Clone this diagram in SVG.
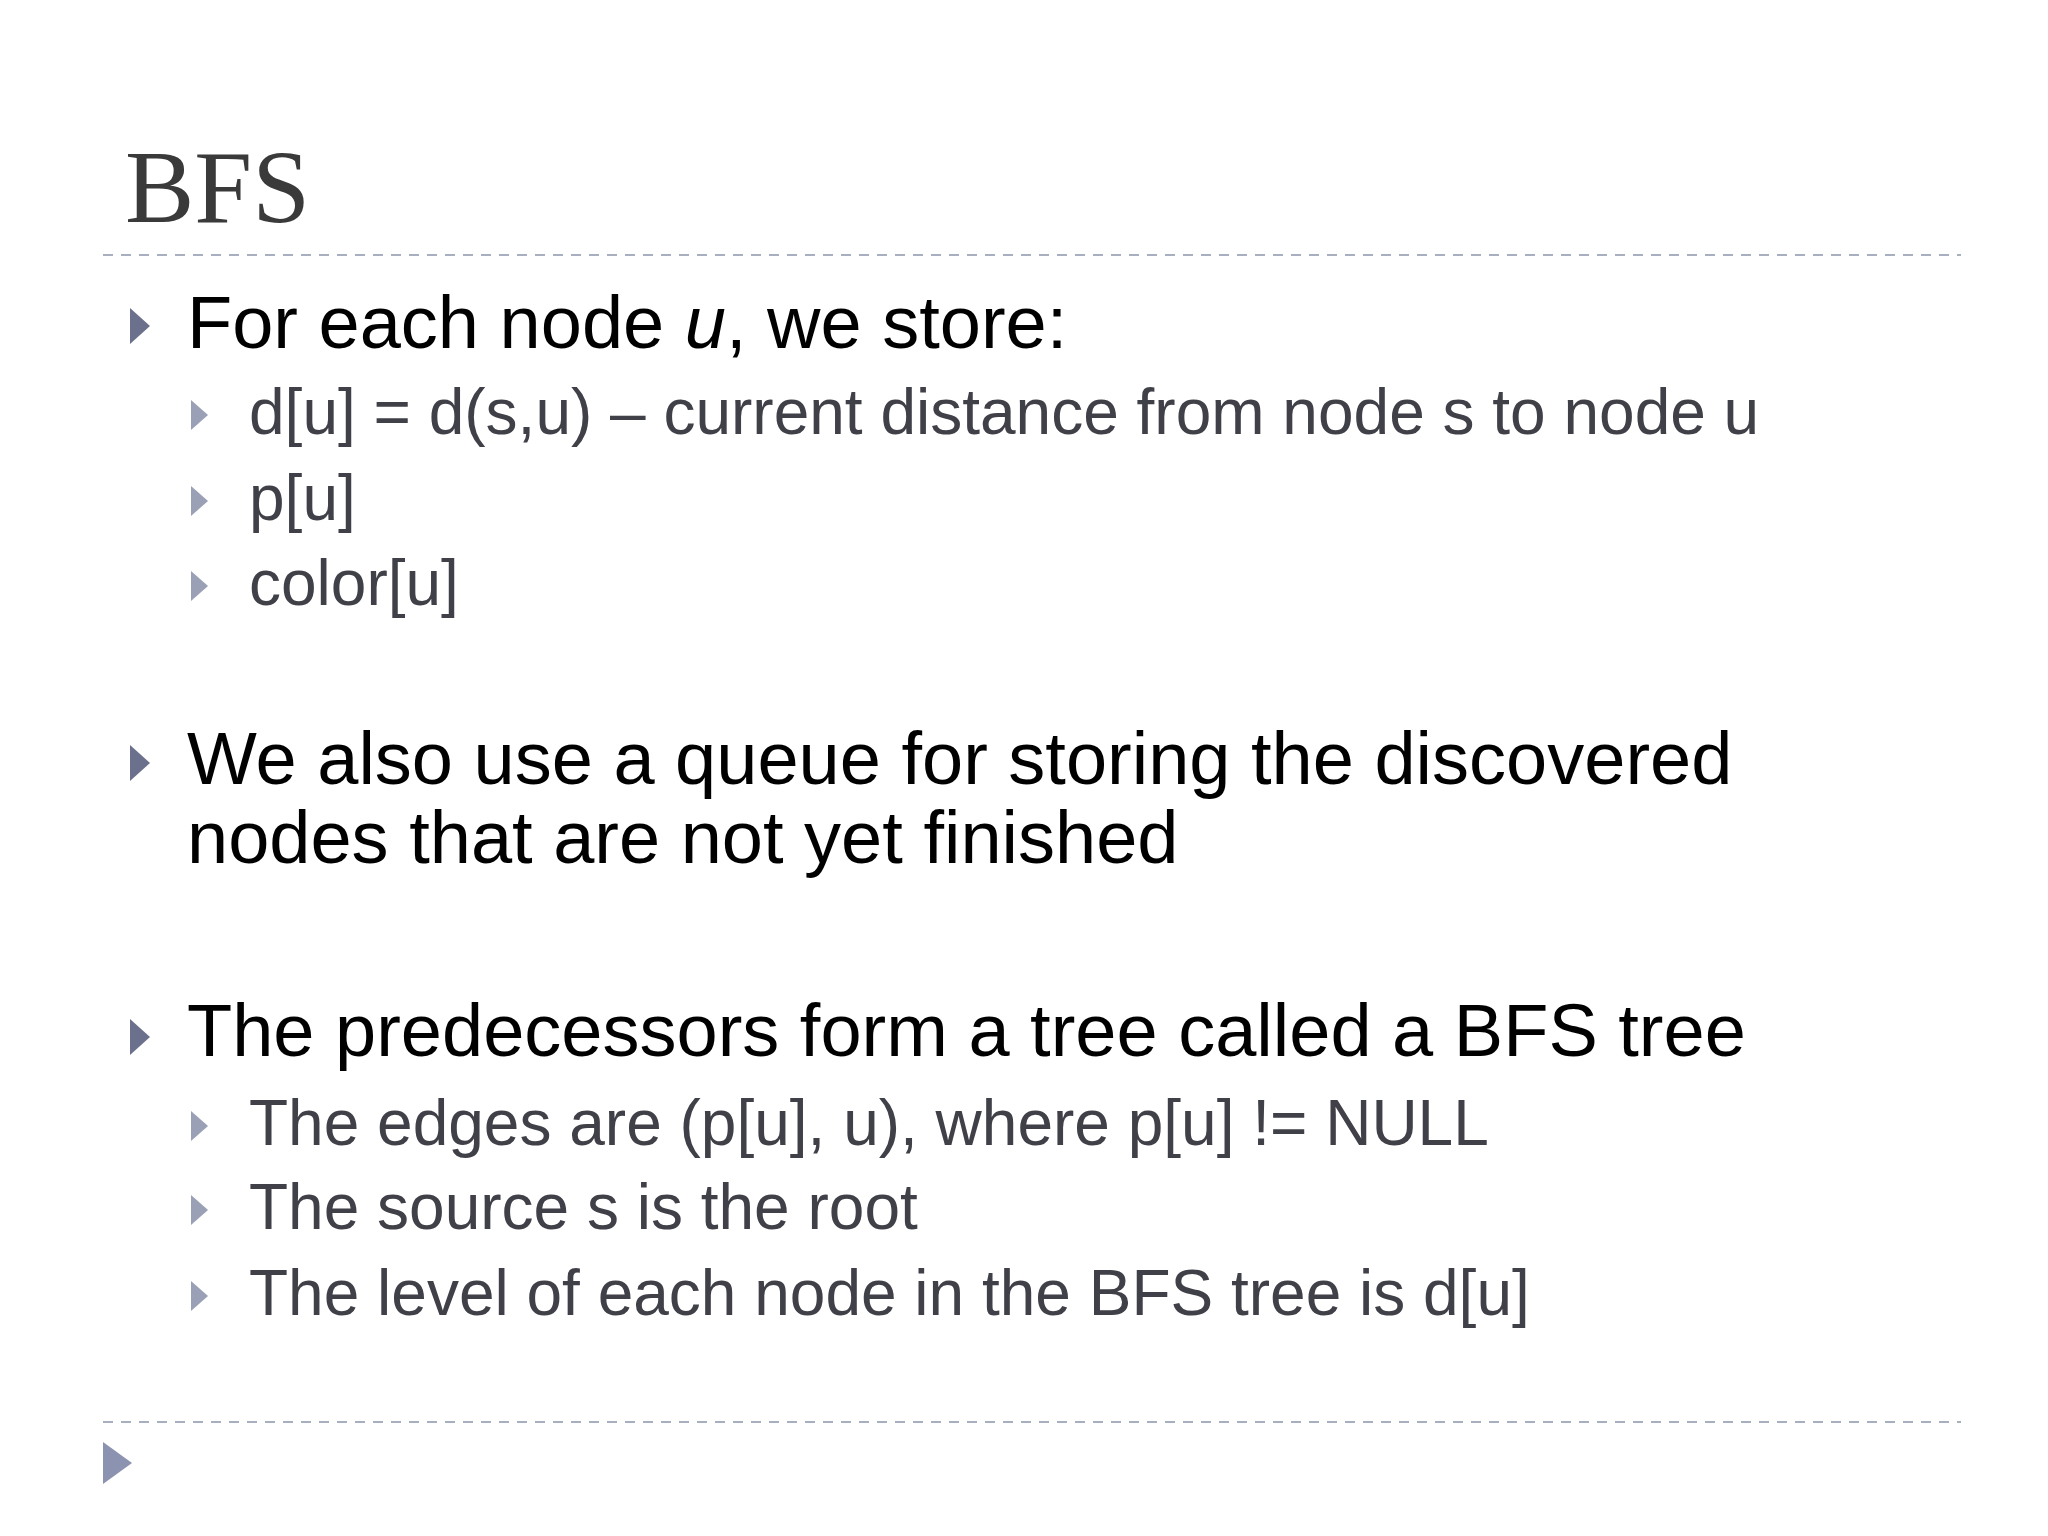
<svg xmlns="http://www.w3.org/2000/svg" width="2048" height="1536" viewBox="0 0 2048 1536">
<style>
.t{font-family:"Liberation Serif",serif;font-size:104px;fill:#3a3a3a}
.b{font-family:"Liberation Sans",Arial,sans-serif;font-size:74px;fill:#000}
.s{font-family:"Liberation Sans",Arial,sans-serif;font-size:64px;fill:#404048}
.d{stroke:#a8b0c0;stroke-width:2;stroke-dasharray:10 8}
.bt{fill:#6b708c}
.st{fill:#9aa0b5}
</style>
<rect width="2048" height="1536" fill="#fff"/>
<text class="t" x="125" y="222">BFS</text>
<line class="d" x1="103" y1="255" x2="1961" y2="255"/>
<line class="d" x1="103" y1="1422" x2="1961" y2="1422"/>
<polygon points="103,1442 132,1463 103,1484" fill="#8c93b0"/>
<g id="b1"><polygon class="bt" points="130,308 150,326 130,344"/><text class="b" x="187" y="348">For each node <tspan font-style="italic">u</tspan>, we store:</text></g>
<g id="s1"><polygon class="st" points="191,400 208,415 191,430"/><text class="s" x="249" y="434">d[u] = d(s,u) – current distance from node s to node u</text></g>
<g id="s2"><polygon class="st" points="191,486 208,501 191,516"/><text class="s" x="249" y="520">p[u]</text></g>
<g id="s3"><polygon class="st" points="191,571 208,586 191,601"/><text class="s" x="249" y="605">color[u]</text></g>
<g id="b2"><polygon class="bt" points="130,745 150,763 130,781"/><text class="b" x="187" y="784">We also use a queue for storing the discovered</text><text class="b" x="187" y="863">nodes that are not yet finished</text></g>
<g id="b3"><polygon class="bt" points="130,1019 150,1037 130,1055"/><text class="b" x="187" y="1056">The predecessors form a tree called a BFS tree</text></g>
<g id="s4"><polygon class="st" points="191,1111 208,1126 191,1141"/><text class="s" x="249" y="1145">The edges are (p[u], u), where p[u] != NULL</text></g>
<g id="s5"><polygon class="st" points="191,1195 208,1210 191,1225"/><text class="s" x="249" y="1229">The source s is the root</text></g>
<g id="s6"><polygon class="st" points="191,1281 208,1296 191,1311"/><text class="s" x="249" y="1315">The level of each node in the BFS tree is d[u]</text></g>
<g id="connectors"/>
</svg>
